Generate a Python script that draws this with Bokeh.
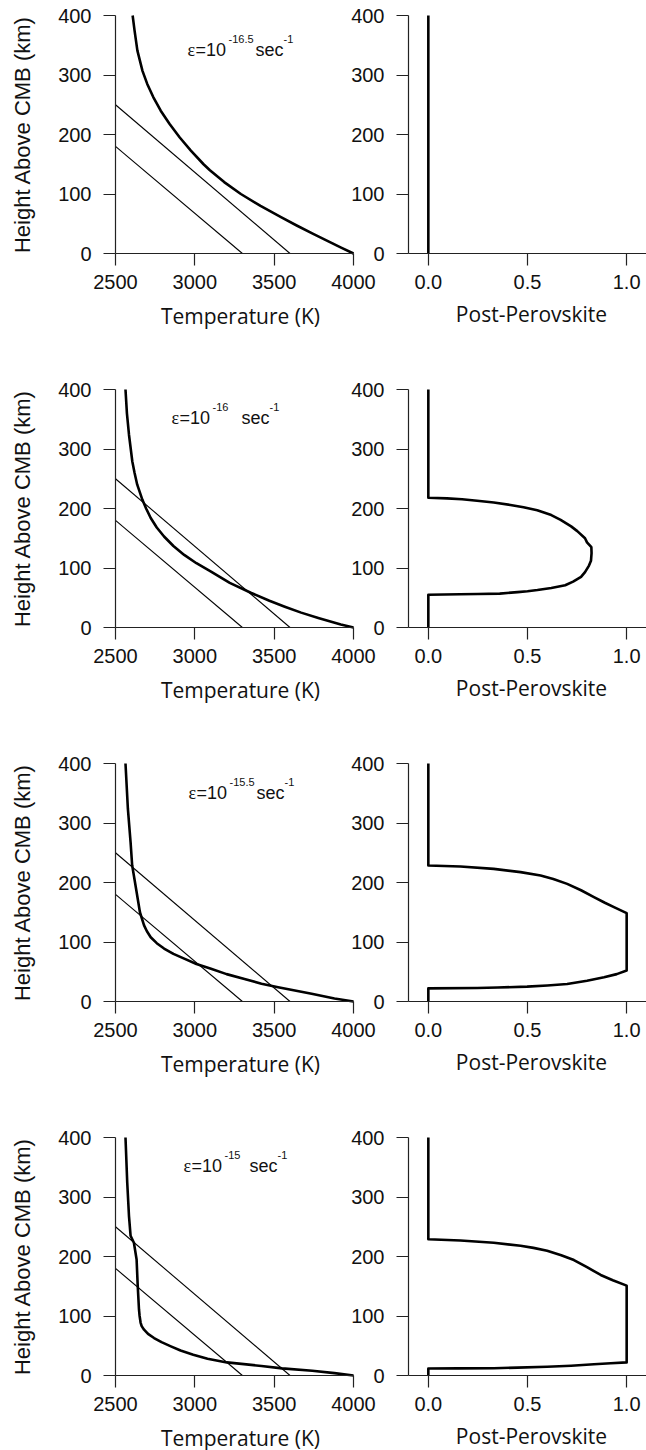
import math
from bokeh.plotting import figure
from bokeh.models import LinearAxis, Range1d, FixedTicker, NumeralTickFormatter, Grid
from bokeh.layouts import column
from bokeh.embed import file_html
from bokeh.resources import INLINE
from bokeh.core.properties import value

# ---------------- data ----------------
temp_ticks = [2500, 3000, 3500, 4000]
height_ticks = [0, 100, 200, 300, 400]
ppv_ticks = [0.0, 0.5, 1.0]

# phase-boundary lines (same in every temperature panel)
bound_hi_T = [2500, 3600]
bound_hi_h = [250, 0]
bound_lo_T = [2500, 3300]
bound_lo_h = [180, 0]

# temperature profiles (K) against height above CMB (km)
temp1_h = [0, 10, 20, 33, 47, 61, 80, 100, 120, 140, 150, 173, 195, 218, 240, 263, 285, 307, 341,
           375, 400]
temp1_T = [4000, 3922, 3845, 3746, 3642, 3543, 3414, 3290, 3185, 3095, 3055, 2975, 2905, 2840,
           2785, 2738, 2700, 2670, 2638, 2620, 2608]

temp2_h = [0, 5, 16, 25, 35, 45, 58, 75, 94, 108, 122, 137, 153, 168, 184, 200, 215, 240, 260, 279,
           324, 360, 400]
temp2_T = [4000, 3920, 3778, 3670, 3567, 3470, 3356, 3220, 3102, 3010, 2933, 2865, 2806, 2760,
           2722, 2693, 2669, 2637, 2620, 2606, 2585, 2572, 2563]

temp3_h = [0, 5, 13, 24, 30, 38, 46, 55, 63, 72, 80, 89, 98, 108, 118, 128, 150, 184, 229, 268,
           324, 400]
temp3_T = [4000, 3880, 3736, 3525, 3420, 3313, 3200, 3102, 3010, 2933, 2865, 2806, 2760, 2722,
           2698, 2680, 2654, 2633, 2605, 2595, 2578, 2563]

temp4_h = [0, 4, 8, 12, 16, 22, 28, 35, 42, 49, 56, 63, 70, 77, 83, 89, 100, 111, 151, 195, 223,
           235, 268, 324, 400]
temp4_T = [4000, 3880, 3740, 3550, 3420, 3202, 3080, 2990, 2910, 2849, 2790, 2743, 2705, 2680,
           2665, 2658, 2652, 2648, 2640, 2633, 2616, 2595, 2585, 2574, 2563]

# post-perovskite fraction against height (km)
ppv1_f = [0, 0]
ppv1_h = [0, 400]

ppv2_f = [0, 0, 0.08, 0.16, 0.25, 0.36, 0.45, 0.50, 0.55, 0.62, 0.69, 0.73, 0.77, 0.79, 0.81,
          0.82, 0.823, 0.822, 0.80, 0.79, 0.751, 0.72, 0.667, 0.62, 0.549, 0.48, 0.414, 0.33,
          0.246, 0.17, 0.094, 0, 0]
ppv2_h = [0, 55, 55.4, 55.9, 56.3, 57, 59.5, 61, 63, 66.5, 71, 77, 85, 93, 104, 112, 125, 135,
          143, 150, 162, 170, 181, 189, 197, 202, 206, 210, 213, 215.5, 217, 218, 400]

ppv3_f = [0, 0, 0.246, 0.35, 0.498, 0.60, 0.70, 0.80, 0.886, 0.95, 1.0, 1.0, 0.936, 0.89, 0.835,
          0.77, 0.70, 0.63, 0.566, 0.465, 0.33, 0.162, 0, 0]
ppv3_h = [0, 22.1, 22.7, 23.5, 25, 27, 29.4, 35, 40.6, 46, 52, 148.5, 158.6, 166, 175.4, 187,
          197.7, 206, 211.8, 217.4, 222.9, 226.8, 228.5, 400]

ppv4_f = [0, 0, 0.15, 0.33, 0.45, 0.599, 0.72, 0.835, 0.92, 1.0, 1.0, 0.93, 0.869, 0.80, 0.734,
          0.67, 0.599, 0.53, 0.465, 0.33, 0.162, 0, 0]
ppv4_h = [0, 11.7, 11.9, 12.3, 13.2, 14.6, 16.5, 18.9, 20.5, 22, 151, 160, 169, 182, 194, 202,
          209.5, 214.5, 218, 223, 227, 229, 400]

strain_exp = ["-16.5", "-16", "-15.5", "-15"]

temps_T = [temp1_T, temp2_T, temp3_T, temp4_T]
temps_h = [temp1_h, temp2_h, temp3_h, temp4_h]
ppvs_f = [ppv1_f, ppv2_f, ppv3_f, ppv4_f]
ppvs_h = [ppv1_h, ppv2_h, ppv3_h, ppv4_h]

# ---------------- layout (pixels) ----------------
W = 646
ROW_H = [374, 374, 374, 328]
FRAME_TOP = 15          # px from row top to the 400 km line
FRAME = 238             # size of every panel's plotting square
T_AXIS_PX = 115         # px of the temperature axis (2500 K)
P_AXIS_PX = 408         # px of the post-perovskite axis (-0.1)

ann_x = [187, 171, 188, 183]     # px of annotation start
ann_base = [49, 43, 44, 43]      # px (row relative) of annotation baseline
sec_off = [68, 70, 68, 66]       # px offset of "sec"


def t_of(px):
    return 2500 + (px - T_AXIS_PX) * 1500 / FRAME


def f_of(px):
    return -0.1 + (px - P_AXIS_PX) * 1.2 / FRAME


def h_of(py):
    return 400 - (py - FRAME_TOP) * 400 / FRAME


TICK_FONT = "Liberation Sans"
LABEL_FONT = "Open Sans"
SERIF_FONT = "Liberation Serif"
AXIS_COLOR = "#222222"
TEXT_COLOR = "#111111"


def style_axis(ax, ticks, standoff):
    ax.ticker = FixedTicker(ticks=ticks)
    ax.major_tick_in = 0
    ax.major_tick_out = 12
    ax.minor_tick_line_color = None
    ax.axis_line_color = AXIS_COLOR
    ax.axis_line_width = 1.2
    ax.major_tick_line_color = AXIS_COLOR
    ax.major_tick_line_width = 1.2
    ax.major_label_text_font = TICK_FONT
    ax.major_label_text_font_size = "20px"
    ax.major_label_text_color = TEXT_COLOR
    ax.major_label_standoff = standoff


def make_row(k):
    rh = ROW_H[k]
    p = figure(width=W, height=rh,
               x_range=Range1d(t_of(0), t_of(W)),
               y_range=Range1d(h_of(rh), h_of(0)),
               x_axis_location=None, y_axis_location=None,
               output_backend="svg", toolbar_location=None,
               min_border=0, min_border_left=0, min_border_right=0,
               min_border_top=0, min_border_bottom=0)
    p.outline_line_color = None
    p.background_fill_color = "white"
    p.border_fill_color = "white"
    for obj in list(p.center) + list(p.renderers):
        if isinstance(obj, Grid):
            obj.visible = False
    p.center = [obj for obj in p.center if not isinstance(obj, Grid)]
    p.extra_x_ranges = {"ppv": Range1d(f_of(0), f_of(W))}

    # temperature panel axes
    tx = LinearAxis(fixed_location=0, bounds=(2500, 4000))
    style_axis(tx, temp_ticks, 9)
    p.add_layout(tx, "below")
    ty = LinearAxis(fixed_location=2500, bounds=(0, 400))
    style_axis(ty, height_ticks, 12)
    p.add_layout(ty, "left")

    # post-perovskite panel axes
    px = LinearAxis(x_range_name="ppv", fixed_location=0, bounds=(-0.1, 1.1))
    style_axis(px, ppv_ticks, 9)
    px.formatter = NumeralTickFormatter(format="0.0")
    p.add_layout(px, "below")
    py = LinearAxis(x_range_name="ppv", fixed_location=-0.1, bounds=(0, 400))
    style_axis(py, height_ticks, 12)
    p.add_layout(py, "left")

    # phase boundaries
    p.line(bound_hi_T, bound_hi_h, line_color="black", line_width=1.1)
    p.line(bound_lo_T, bound_lo_h, line_color="black", line_width=1.1)
    # temperature profile
    p.line(temps_T[k], temps_h[k], line_color="black", line_width=2.6, line_join="round")
    # post-perovskite fraction
    p.line(ppvs_f[k], ppvs_h[k], line_color="black", line_width=2.6, line_join="round",
           x_range_name="ppv")

    # axis titles
    p.text(x=[t_of(240)], y=[h_of(FRAME_TOP + FRAME + 62)], text=["Temperature (K)"],
           text_font=value(LABEL_FONT), text_font_size="21px", text_color=TEXT_COLOR,
           text_align="center", text_baseline="middle")
    p.text(x=[f_of(531)], y=[h_of(FRAME_TOP + FRAME + 60)], text=["Post-Perovskite"],
           x_range_name="ppv",
           text_font=value(LABEL_FONT), text_font_size="21px", text_color=TEXT_COLOR,
           text_align="center", text_baseline="middle")
    p.text(x=[t_of(22)], y=[h_of(FRAME_TOP + FRAME / 2)], text=["Height Above CMB (km)"],
           angle=math.pi / 2,
           text_font=value(TICK_FONT), text_font_size="22px", text_color=TEXT_COLOR,
           text_align="center", text_baseline="middle")

    # strain-rate annotation
    common = dict(text_color=TEXT_COLOR, text_baseline="alphabetic", text_align="left")
    x0 = ann_x[k]
    base = h_of(ann_base[k])
    sup = h_of(ann_base[k] - 11)
    p.text(x=[t_of(x0)], y=[base], text=["ε"], text_font=value(SERIF_FONT),
           text_font_size="18px", **common)
    p.text(x=[t_of(x0 + 8)], y=[base], text=["=10"], text_font=value(TICK_FONT),
           text_font_size="18px", **common)
    p.text(x=[t_of(x0 + 41)], y=[sup], text=[strain_exp[k]], text_font=value(TICK_FONT),
           text_font_size="11px", **common)
    p.text(x=[t_of(x0 + sec_off[k])], y=[base], text=["sec"], text_font=value(TICK_FONT),
           text_font_size="18px", **common)
    p.text(x=[t_of(x0 + sec_off[k] + 28)], y=[sup], text=["-1"], text_font=value(TICK_FONT),
           text_font_size="11px", **common)
    return p


rows = [make_row(k) for k in range(4)]
layout = column(*rows, spacing=0)

open("out.html", "w").write(file_html(layout, INLINE))
